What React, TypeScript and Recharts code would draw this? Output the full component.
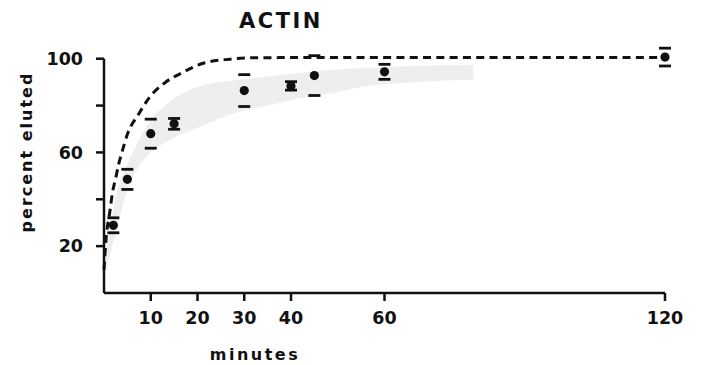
import { ComposedChart, XAxis, YAxis, Area, Line, Scatter, ReferenceLine } from 'recharts';

// dashed reference curve (minutes -> percent eluted)
const curveTime = [0, 0.4, 1.3, 1.8, 2.5, 3.1, 3.8, 5.1, 7.3, 9.8, 13, 16.7, 21.6, 27, 32, 45, 120];
const curveValue = [10, 22, 35.4, 42.7, 49, 54.7, 59.8, 68.3, 76, 83.7, 89.7, 94, 98.3, 99.8, 100.4, 100.5, 100.5];

// shaded grey band
const bandTime = [0.5, 2, 3, 5, 7.7, 10, 13.4, 20.5, 29, 35, 42, 49, 56, 63, 79];
const bandLow = [10, 22, 30, 44, 54.7, 60, 64.6, 71, 77.5, 80, 83.2, 85.5, 88.2, 89.5, 91];
const bandHigh = [18, 36, 45, 55, 66, 74, 80.5, 88.2, 91, 92.4, 94, 95.3, 96, 96.7, 97.4];

// measured points with error
const pointTime = [2, 5, 10, 15, 30, 40, 45, 60, 120];
const pointValue = [28.9, 48.5, 68, 72.2, 86.4, 88.4, 92.8, 94.4, 100.7];
const pointError = [3.2, 4.3, 6.2, 2.3, 6.8, 1.8, 8.5, 3.2, 3.8];

const xTicks = [10, 20, 30, 40, 60, 120];
const yTicks = [20, 40, 60, 80, 100];
const yLabelled = [20, 60, 100];

const ink = '#111';
const font = '"DejaVu Sans", Verdana, sans-serif';

const band = bandTime.map((t, i) => ({ t, range: [bandLow[i], bandHigh[i]] }));
const curve = curveTime.map((t, i) => ({ t, v: curveValue[i] }));
const points = pointTime.map((t, i) => ({ t, v: pointValue[i] }));
const caps = pointTime.flatMap((t, i) => [
  { t, v: pointValue[i] + pointError[i] },
  { t, v: pointValue[i] - pointError[i] },
]);

const Cap = (props: any) => {
  const { cx, cy } = props;
  if (cx == null || cy == null) return null;
  return <line x1={cx - 6} x2={cx + 6} y1={cy} y2={cy} stroke={ink} strokeWidth={2.8} />;
};

const Dot = (props: any) => {
  const { cx, cy } = props;
  if (cx == null || cy == null) return null;
  return <circle cx={cx} cy={cy} r={4.6} fill={ink} />;
};

const tickStyle = { fill: ink, fontSize: 17.5, fontWeight: 700, fontFamily: font };

export default function App() {
  return (
    <div style={{ position: 'absolute', left: 0, top: 0, background: '#fff' }}>
      <ComposedChart width={701} height={365} margin={{ top: 47, right: 36, bottom: 0, left: 0 }}>
        <XAxis
          dataKey="t"
          type="number"
          domain={[0, 120]}
          ticks={xTicks}
          height={72}
          allowDuplicatedCategory={false}
          axisLine={{ stroke: ink, strokeWidth: 2.5 }}
          tickLine={{ stroke: ink, strokeWidth: 2.5 }}
          tickSize={8}
          tickMargin={11}
          tick={tickStyle}
        />
        <YAxis
          type="number"
          domain={[0, 105]}
          ticks={yTicks}
          width={104}
          axisLine={false}
          tickLine={{ stroke: ink, strokeWidth: 2.5 }}
          tickSize={8}
          tickMargin={13}
          tick={tickStyle}
          tickFormatter={(v: number) => (yLabelled.includes(v) ? String(v) : '')}
        />
        <ReferenceLine
          segment={[{ x: 0, y: 0 }, { x: 0, y: 100 }]}
          stroke={ink}
          strokeWidth={2.5}
          ifOverflow="visible"
        />
        <Area
          data={band}
          dataKey="range"
          type="monotone"
          fill="#eeeeee"
          fillOpacity={1}
          stroke="none"
          isAnimationActive={false}
        />
        <Line
          data={curve}
          dataKey="v"
          type="monotone"
          stroke={ink}
          strokeWidth={3}
          strokeDasharray="8 5.3"
          dot={false}
          activeDot={false}
          isAnimationActive={false}
        />
        <Scatter data={caps} dataKey="v" shape={Cap} isAnimationActive={false} />
        <Scatter data={points} dataKey="v" shape={Dot} isAnimationActive={false} />
        <text x={281} y={28} textAnchor="middle" fill={ink} fontSize={21} fontWeight={700} fontFamily={font} letterSpacing={2.5}>
          ACTIN
        </text>
        <text
          x={32}
          y={152}
          transform="rotate(-90 32 152)"
          textAnchor="middle"
          fill={ink}
          fontSize={16}
          fontWeight={700}
          fontFamily={font}
          letterSpacing={2}
        >
          percent eluted
        </text>
        <text x={255} y={360} textAnchor="middle" fill={ink} fontSize={16} fontWeight={700} fontFamily={font} letterSpacing={2.5}>
          minutes
        </text>
      </ComposedChart>
    </div>
  );
}
